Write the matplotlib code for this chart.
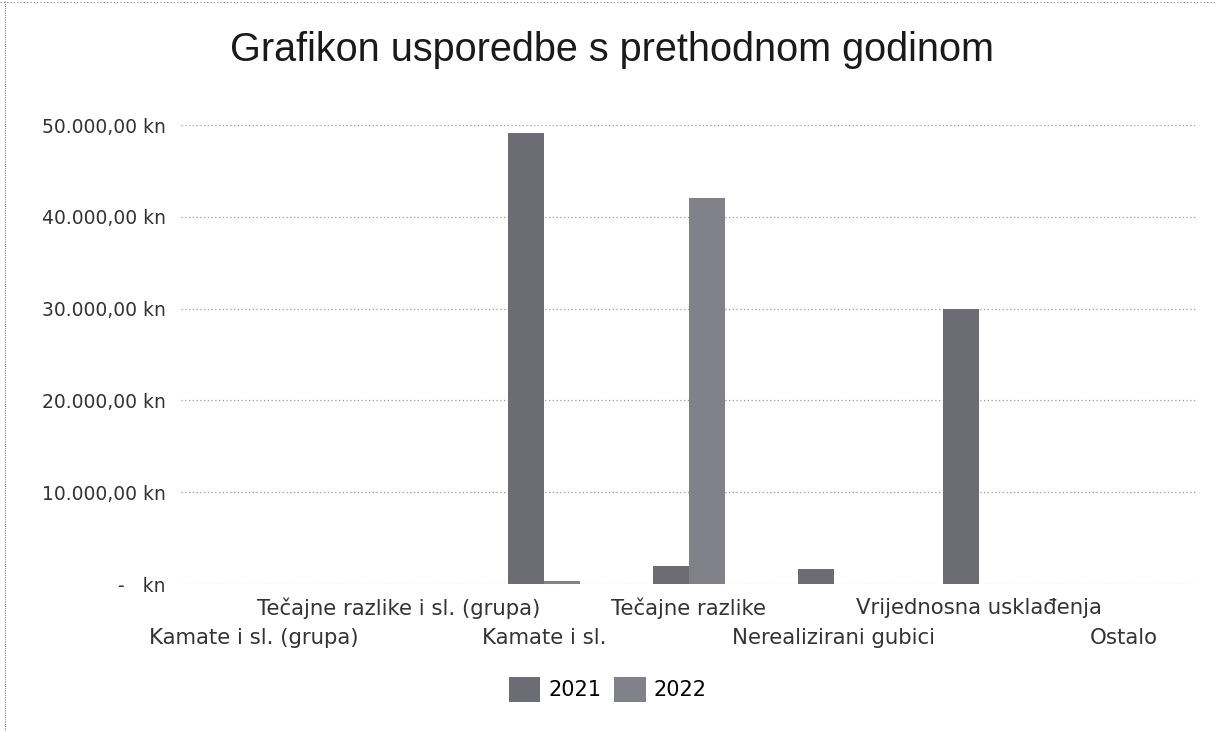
import numpy as np
import matplotlib.pyplot as plt
from matplotlib.lines import Line2D

categories = ['Kamate i sl. (grupa)', 'Tečajne razlike i sl. (grupa)', 'Kamate i sl.',
              'Tečajne razlike', 'Nerealizirani gubici', 'Vrijednosna usklađenja', 'Ostalo']
values_2021 = [0, 0, 49100, 2000, 1600, 30000, 0]
values_2022 = [0, 0, 300, 42000, 0, 0, 0]
y_ticks = [0, 10000, 20000, 30000, 40000, 50000]


def kn(v):
    if v == 0:
        return '-   kn'
    return f'{v:,.2f}'.replace(',', 'X').replace('.', ',').replace('X', '.') + ' kn'


fig = plt.figure(figsize=(12.16, 7.31), dpi=100)
ax = fig.add_axes([0.149, 0.201, 0.835, 0.628])

x = np.arange(len(categories))
w = 0.25
ax.bar(x - w / 2, values_2021, w, color='#6c6c75', label='2021')
ax.bar(x + w / 2, values_2022, w, color='#818189', label='2022')

ax.set_xlim(-0.5, len(categories) - 0.5)
ax.set_ylim(0, 50000)
ax.set_yticks(y_ticks)
ax.set_yticklabels([kn(v) for v in y_ticks], fontsize=13.5, color='#333333')
ax.tick_params(axis='y', length=0, pad=11)
ax.yaxis.grid(True, linestyle=(0, (1, 2)), color='#9a9a9a', linewidth=0.9)
ax.set_axisbelow(True)
for s in ax.spines.values():
    s.set_visible(False)

ax.set_xticks(x)
ax.set_xticklabels([])
ax.tick_params(axis='x', length=0)
for i, c in enumerate(categories):
    off = -0.03 if i % 2 == 1 else -0.095
    ax.text(i, off, c, transform=ax.get_xaxis_transform(), ha='center', va='top',
            fontsize=15.3, color='#333333')

fig.text(0.503, 0.932, 'Grafikon usporedbe s prethodnom godinom', ha='center', va='center',
         fontsize=28.5, family='Liberation Sans', color='#1a1a1a')

fig.legend(loc='center', bbox_to_anchor=(0.5, 0.057), ncol=2, frameon=False, fontsize=15,
           handlelength=1.5, handleheight=1.5, columnspacing=0.6, handletextpad=0.4)

# faint border from the scan
fig.add_artist(Line2D([0.004, 0.004], [0.0, 1.0], transform=fig.transFigure,
                      color='#888888', linestyle=(0, (1, 1)), linewidth=0.8))
fig.add_artist(Line2D([0.0, 1.0], [0.997, 0.997], transform=fig.transFigure,
                      color='#888888', linestyle=(0, (1, 2)), linewidth=0.8))

fig.savefig('out.png', dpi=100)
